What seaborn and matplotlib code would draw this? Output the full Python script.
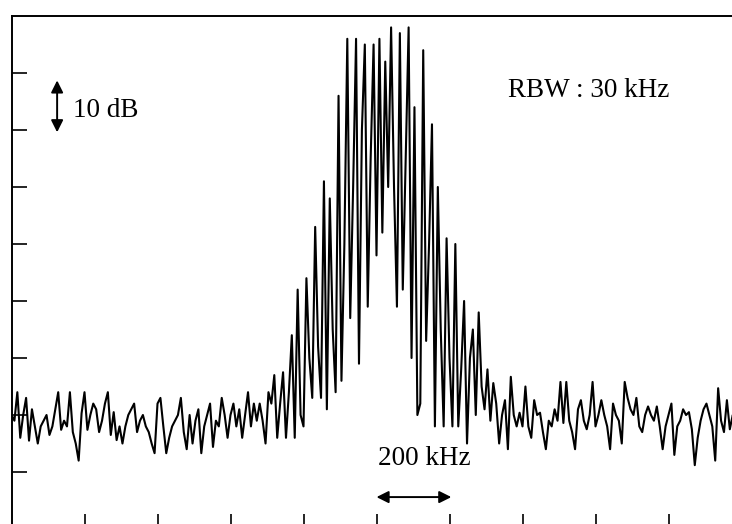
import numpy as np
import pandas as pd
import matplotlib
matplotlib.use("Agg")
import matplotlib.pyplot as plt
import seaborn as sns

# ---- data ----
freq_start_khz = -1000
freq_step_khz = 8

noise_left_db = [
    -70, -71, -66, -74, -70, -67, -74.5, -69, -72, -75,
    -72, -71, -70, -73.5, -72, -69, -66, -72.6, -71, -72,
    -66, -73, -75, -78, -69.7, -66, -72.6, -70, -68, -69,
    -73, -71, -68, -66, -73.5, -69.5, -74.4, -72, -75, -72,
    -70, -69, -68, -73, -71, -70, -72, -73, -75, -76.7,
    -68, -67, -72, -76.7, -74, -72, -71, -70, -67, -73,
    -76, -70, -75, -71, -69, -76.7, -72, -70, -68, -75.6,
    -71, -72, -67, -70, -74, -70, -68, -72, -69, -74,
    -70, -66, -72, -68, -71, -68,
]
foot_left_db = [-71, -75, -66, -68, -63, -74, -68, -62.5, -74, -66]
comb_db = [
    -56, -74, -48, -70, -72, -46, -60, -67, -37, -58,
    -67, -29, -69, -32, -55, -66, -14, -64, -40, -4,
    -53, -30, -4, -61, -20, -5, -51, -25, -5, -42,
    -4, -38, -8, -30, -2, -30, -51, -3, -48, -25,
    -2, -60, -16, -70, -68, -6, -57, -40, -19, -72,
    -30, -55, -72, -39, -60, -72, -40, -72, -62, -50,
    -75, -60, -55, -70, -52, -65, -69, -62, -71, -64.4,
    -68,
]
noise_right_db = [
    -75, -70, -67.4, -76, -63.3, -70, -72, -69.6, -72, -65,
    -72, -74, -67.4, -70, -69.6, -73, -76, -71, -72, -69,
    -71, -64.2, -71.4, -64.2, -71, -73, -76, -69, -67.4, -71,
    -72.5, -70, -64.2, -72, -70, -67.4, -70, -72, -76, -68,
    -70, -71, -75, -64.2, -67, -69, -70, -67, -72, -73,
    -70, -68.5, -70, -71, -68.5, -72, -76, -72, -70, -68,
    -77, -72, -71, -69, -70, -69.5, -72.5, -78.8, -74, -71,
    -69, -68, -70, -72, -78, -65.3, -71, -73, -67.4, -72.5,
    -70, -71, -69, -70,
]

x_ticks_khz = [-800, -600, -400, -200, 0, 200, 400, 600, 800]
y_ticks_db = [-10, -20, -30, -40, -50, -60, -70, -80]

level_db = noise_left_db + foot_left_db + comb_db + noise_right_db
freq_khz = freq_start_khz + freq_step_khz * np.arange(len(level_db))
df = pd.DataFrame({"freq": freq_khz, "level": level_db})

# ---- styling ----
sns.set_style("white")
plt.rcParams["font.family"] = ["Liberation Serif", "DejaVu Serif"]
plt.rcParams["text.color"] = "black"

W, H = 732, 524
fig = plt.figure(figsize=(W / 100, H / 100), dpi=100)
ax = fig.add_axes([11.5 / W, 1 - 529 / H, 730 / W, 513 / H])

sns.lineplot(data=df, x="freq", y="level", color="black", linewidth=1.5,
             estimator=None, ax=ax)

ax.set_xlim(-1000, 1000)
ax.set_ylim(-90, 0)
ax.set_xlabel("")
ax.set_ylabel("")
ax.set_xticks(x_ticks_khz)
ax.set_yticks(y_ticks_db)
ax.tick_params(direction="in", length=11, width=1.2, color="black",
               labelbottom=False, labelleft=False,
               bottom=True, left=True, top=False, right=False)
for side in ["top", "left"]:
    ax.spines[side].set_color("black")
    ax.spines[side].set_linewidth(1.4)
for side in ["right", "bottom"]:
    ax.spines[side].set_visible(False)

fs = 19.5
ax.text(360, -14.2, "RBW : 30 kHz", fontsize=fs, va="baseline", ha="left",
        color="black")
ax.text(-832, -17.7, "10 dB", fontsize=fs, va="baseline", ha="left",
        color="black")
ax.text(4, -78.8, "200 kHz", fontsize=fs, va="baseline", ha="left",
        color="black")

ax.annotate("", xy=(205, -84.4), xytext=(0, -84.4),
            arrowprops=dict(arrowstyle="<|-|>", color="black", lw=1.4,
                            mutation_scale=18, shrinkA=0, shrinkB=0))
ax.annotate("", xy=(-875, -20.4), xytext=(-875, -11.3),
            arrowprops=dict(arrowstyle="<|-|>", color="black", lw=1.4,
                            mutation_scale=18, shrinkA=0, shrinkB=0))

fig.savefig("out.png", dpi=100, facecolor="white")
